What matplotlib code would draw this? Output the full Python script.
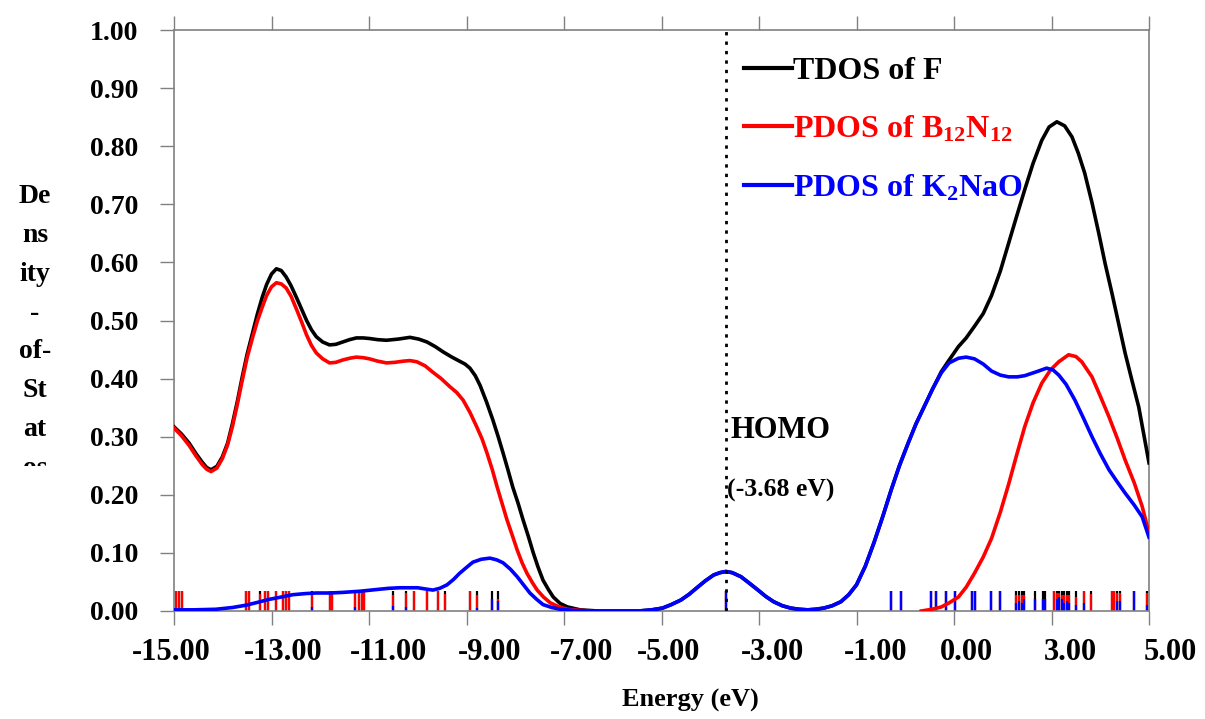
import numpy as np
import matplotlib
matplotlib.use("Agg")
import matplotlib.pyplot as plt
from matplotlib.lines import Line2D
from matplotlib.transforms import Bbox, blended_transform_factory

plt.rcParams['font.family'] = ['Liberation Serif', 'DejaVu Serif']
plt.rcParams['font.weight'] = 'bold'
plt.rcParams['mathtext.fontset'] = 'custom'
plt.rcParams['mathtext.rm'] = 'Liberation Serif:bold'
plt.rcParams['mathtext.it'] = 'Liberation Serif:bold'
plt.rcParams['mathtext.bf'] = 'Liberation Serif:bold'

# TDOS of the whole complex
tdos_x = [-15.0, -14.85, -14.69, -14.55, -14.42, -14.33, -14.24, -14.12, -14.01, -13.9, -13.8,
          -13.7, -13.6, -13.5, -13.39, -13.29, -13.19, -13.1, -13.0, -12.9, -12.8, -12.7,
          -12.6, -12.49, -12.38, -12.28, -12.18, -12.08, -11.95, -11.81, -11.68, -11.54,
          -11.4, -11.26, -11.12, -10.99, -10.82, -10.64, -10.4, -10.16, -9.98, -9.81,
          -9.64, -9.48, -9.3, -9.14, -9.03, -8.93, -8.82, -8.72, -8.59, -8.46, -8.35,
          -8.25, -8.15, -8.05, -7.94, -7.84, -7.73, -7.63, -7.53, -7.43, -7.32, -7.22,
          -7.08, -6.93, -6.67, -6.3, -5.47, -5.2, -4.98, -4.8, -4.6, -4.43, -4.26, -4.1,
          -3.93, -3.8, -3.68, -3.55, -3.37, -3.2, -3.02, -2.86, -2.7, -2.52, -2.35, -2.18,
          -2.0, -1.84, -1.67, -1.5, -1.32, -1.16, -1.0, -0.82, -0.64, -0.46, -0.29, -0.12,
          0.06, 0.22, 0.39, 0.56, 0.74, 0.9, 1.09, 1.25, 1.42, 1.6, 1.77, 1.95, 2.12, 2.28,
          2.45, 2.62, 2.8, 2.95, 3.11, 3.27, 3.42, 3.55, 3.68, 3.83, 3.97, 4.1, 4.24, 4.38,
          4.51, 4.65, 4.79, 5.0]
tdos_y = [0.317, 0.305, 0.289, 0.271, 0.256, 0.247, 0.243, 0.249, 0.265, 0.289, 0.323,
          0.361, 0.403, 0.442, 0.478, 0.511, 0.54, 0.562, 0.58, 0.589, 0.586, 0.575,
          0.56, 0.54, 0.519, 0.50, 0.484, 0.472, 0.463, 0.458, 0.459, 0.463,
          0.467, 0.47, 0.47, 0.469, 0.467, 0.466, 0.468, 0.471, 0.468, 0.463,
          0.455, 0.446, 0.437, 0.43, 0.425, 0.418, 0.405, 0.388, 0.36, 0.329, 0.300,
          0.272, 0.243, 0.213, 0.185, 0.157, 0.128, 0.10, 0.075, 0.053, 0.037, 0.024,
          0.013, 0.007, 0.002, 0.0, 0.0, 0.002, 0.005, 0.011, 0.019, 0.029, 0.041, 0.052,
          0.062, 0.066, 0.068, 0.066, 0.059, 0.048, 0.036, 0.025, 0.016, 0.009, 0.005, 0.003,
          0.002, 0.003, 0.005, 0.009, 0.016, 0.028, 0.045, 0.077, 0.118, 0.163, 0.208, 0.25,
          0.289, 0.322, 0.352, 0.382, 0.412, 0.432, 0.455, 0.47, 0.49, 0.512, 0.543, 0.585,
          0.633, 0.678, 0.725, 0.77, 0.81, 0.833, 0.842, 0.835, 0.816, 0.788, 0.754, 0.703,
          0.65, 0.598, 0.547, 0.494, 0.444, 0.397, 0.351, 0.255]

# PDOS of B12N12 (two visible pieces)
bn_left_x = [-15.0, -14.85, -14.69, -14.55, -14.42, -14.33, -14.24, -14.12, -14.01, -13.9,
             -13.8, -13.7, -13.6, -13.5, -13.39, -13.29, -13.19, -13.1, -13.0, -12.9, -12.8,
             -12.7, -12.6, -12.49, -12.38, -12.28, -12.18, -12.08, -11.95, -11.81, -11.68,
             -11.54, -11.4, -11.26, -11.12, -10.99, -10.82, -10.64, -10.47, -10.3, -10.16,
             -10.02, -9.85, -9.69, -9.52, -9.34, -9.2, -9.07, -8.93, -8.79, -8.68, -8.58,
             -8.47, -8.37, -8.27, -8.17, -8.06, -7.96, -7.86, -7.76, -7.65, -7.55, -7.42,
             -7.28, -7.1, -6.93, -6.5]
bn_left_y = [0.315, 0.302, 0.285, 0.267, 0.252, 0.244, 0.240, 0.246, 0.262, 0.286,
             0.318, 0.356, 0.397, 0.436, 0.47, 0.499, 0.523, 0.543, 0.558, 0.565, 0.563,
             0.556, 0.542, 0.52, 0.497, 0.475, 0.457, 0.444, 0.434, 0.427, 0.428,
             0.432, 0.435, 0.437, 0.436, 0.434, 0.43, 0.427, 0.428, 0.430, 0.431,
             0.429, 0.422, 0.411, 0.4, 0.386, 0.376, 0.363, 0.342, 0.317, 0.296, 0.272,
             0.243, 0.213, 0.185, 0.157, 0.13, 0.105, 0.083, 0.065, 0.049, 0.036, 0.024,
             0.014, 0.007, 0.003, 0.0]
bn_right_x = [0.33, 0.55, 0.74, 0.9, 1.09, 1.25, 1.42, 1.6, 1.77, 1.95, 2.12, 2.28, 2.45,
              2.62, 2.8, 2.98, 3.15, 3.35, 3.5, 3.62, 3.83, 4.0, 4.18, 4.35, 4.51, 4.7,
              4.86, 5.0]
bn_right_y = [0.0, 0.003, 0.007, 0.014, 0.024, 0.041, 0.065, 0.093, 0.125, 0.17, 0.218,
              0.267, 0.317, 0.358, 0.392, 0.415, 0.429, 0.441, 0.438, 0.429, 0.403, 0.37,
              0.334, 0.297, 0.26, 0.22, 0.18, 0.134]

# PDOS of K2NaO
kno_x = [-15.0, -14.6, -14.14, -13.8, -13.52, -13.28, -13.05, -12.8, -12.57, -12.3, -12.08,
         -11.8, -11.54, -11.19, -10.84, -10.6, -10.37, -10.0, -9.85, -9.69, -9.55, -9.4,
         -9.27, -9.14, -9.0, -8.87, -8.7, -8.52, -8.38, -8.25, -8.1, -7.96, -7.83, -7.7,
         -7.56, -7.43, -7.25, -7.08, -6.8, -6.5, -5.47, -5.2, -4.98, -4.8, -4.6, -4.43,
         -4.26, -4.1, -3.93, -3.8, -3.68, -3.55, -3.37, -3.2, -3.02, -2.86, -2.7, -2.52,
         -2.35, -2.18, -2.0, -1.84, -1.67, -1.5, -1.32, -1.16, -1.0, -0.82, -0.64, -0.46,
         -0.29, -0.12, 0.06, 0.22, 0.39, 0.56, 0.74, 0.9, 1.09, 1.25, 1.42, 1.6, 1.77,
         1.95, 2.12, 2.3, 2.45, 2.7, 2.9, 3.03, 3.15, 3.3, 3.48, 3.65, 3.83, 4.0, 4.18,
         4.35, 4.51, 4.7, 4.86, 5.0]
kno_y = [0.002, 0.002, 0.003, 0.006, 0.01, 0.015, 0.02, 0.024, 0.028, 0.030, 0.031,
         0.031, 0.032, 0.034, 0.037, 0.039, 0.040, 0.040, 0.038, 0.036, 0.039, 0.045,
         0.054, 0.065, 0.075, 0.084, 0.089, 0.091, 0.088, 0.083, 0.072, 0.059, 0.045, 0.031,
         0.02, 0.011, 0.006, 0.003, 0.001, 0.0, 0.0, 0.002, 0.005, 0.011, 0.019, 0.029,
         0.041, 0.052, 0.062, 0.066, 0.068, 0.066, 0.059, 0.048, 0.036, 0.025, 0.016, 0.009,
         0.005, 0.003, 0.002, 0.003, 0.005, 0.009, 0.016, 0.028, 0.045, 0.077, 0.118, 0.163,
         0.208, 0.25, 0.289, 0.322, 0.352, 0.382, 0.41, 0.427, 0.435, 0.437, 0.434, 0.425,
         0.413, 0.406, 0.403, 0.403, 0.405, 0.412, 0.418, 0.415, 0.406, 0.39, 0.363, 0.333,
         0.30, 0.271, 0.243, 0.222, 0.203, 0.182, 0.162, 0.127]

# energy levels: (energy, B12N12 fraction, K2NaO fraction)
levels = [(-14.95, 1, 0), (-14.90, 1, 0), (-14.83, 1, 0), (-13.52, 1, 0), (-13.47, 1, 0),
          (-13.23, 0.85, 0), (-13.13, 1, 0), (-13.07, 1, 0), (-12.91, 1, 0), (-12.76, 1, 0),
          (-12.70, 1, 0), (-12.65, 1, 0), (-12.17, 0.6, 0.2), (-11.79, 1, 0), (-11.76, 1, 0),
          (-11.28, 0.8, 0.2), (-11.21, 1, 0), (-11.15, 1, 0), (-11.10, 1, 0),
          (-10.51, 0.55, 0.25), (-10.25, 0.7, 0.2), (-10.08, 1, 0), (-9.82, 1, 0),
          (-9.58, 1, 0), (-9.44, 0.85, 0), (-8.92, 1, 0), (-8.78, 0.65, 0.15),
          (-8.47, 0, 0.6), (-8.36, 0.1, 0.5), (-3.68, 0, 1),
          (-0.29, 0, 1), (-0.08, 0, 1), (0.53, 0, 1), (0.64, 0, 1), (0.84, 0, 1), (1.03, 0, 1),
          (1.36, 0, 1), (1.43, 0, 1), (1.76, 0, 1), (1.94, 0, 1), (2.28, 0.4, 0.4),
          (2.33, 0.3, 0.5), (2.39, 0.4, 0.4), (2.44, 0.2, 0.6), (2.66, 0, 0.6), (2.82, 0, 0.6),
          (2.87, 0, 0.6), (3.06, 1, 0), (3.11, 0.3, 0.6), (3.15, 0.2, 0.7), (3.21, 0.2, 0.6),
          (3.26, 0.4, 0.4), (3.31, 0.3, 0.5), (3.36, 0.4, 0.4), (3.50, 0.4, 0.3),
          (3.66, 0.6, 0.4), (3.81, 0.85, 0), (4.24, 1, 0), (4.29, 1, 0), (4.34, 0.4, 0.5),
          (4.40, 0.4, 0.5), (4.69, 0, 1), (4.96, 0.6, 0.3)]

homo = -3.68
tick_pos = list(range(-15, 6, 2))
xlabel_text = ['-15.00', '-13.00', '-11.00', '-9.00', '-7.00', '-5.00', '-3.00',
               '-1.00', '0.00', '3.00', '5.00']
xlabel_at = [-15.06, -12.76, -10.59, -8.52, -6.63, -4.85, -2.73, -0.6, 1.25, 3.38, 5.43]

W, H = 1205, 719
fig = plt.figure(figsize=(W / 100, H / 100), dpi=100)
ax = fig.add_axes([174 / W, 108 / H, 975 / W, 581 / H])

# sticks for the energy levels
stick_h = 0.0345
lv = np.array(levels, dtype=float)
ax.vlines(lv[:, 0], 0, stick_h, colors='black', lw=1.6, zorder=2)
ax.vlines(lv[:, 0], 0, stick_h * np.minimum(lv[:, 1] + lv[:, 2], 1), colors='red', lw=1.6, zorder=2)
mask = lv[:, 2] > 0
ax.vlines(lv[mask, 0], 0, stick_h * lv[mask, 2], colors='blue', lw=1.6, zorder=2)

ax.plot(tdos_x, tdos_y, color='black', lw=2.6, zorder=3, solid_joinstyle='round')
ax.plot(bn_left_x, bn_left_y, color='red', lw=2.6, zorder=4, solid_joinstyle='round')
ax.plot(bn_right_x, bn_right_y, color='red', lw=2.6, zorder=4, solid_joinstyle='round')
ax.plot(kno_x, kno_y, color='blue', lw=2.6, zorder=5, solid_joinstyle='round')

ax.axvline(homo, color='black', lw=2, linestyle=(0, (1.2, 2.2)), zorder=6)
ax.text(homo + 0.1, 0.31, 'HOMO', fontsize=22, ha='left', va='center')
ax.text(homo + 0.03, 0.207, '(-3.68 eV)', fontsize=18.5, ha='left', va='center')

ax.set_xlim(-15, 5)
ax.set_ylim(0, 1)
ax.set_yticks(np.arange(0, 1.01, 0.1))
ax.set_yticklabels([f'{v:.2f}' for v in np.arange(0, 1.01, 0.1)])
ax.set_xticks(tick_pos)
ax.set_xticklabels([])
ax.tick_params(axis='y', direction='out', length=10, width=1, pad=16, labelsize=20, color='#808080')
ax.tick_params(axis='x', which='major', bottom=True, direction='out', length=10, width=1, color='#808080')
ax.tick_params(axis='x', top=True, length=10)
for sp in ax.spines.values():
    sp.set_color('#808080')
    sp.set_linewidth(1.2)

trans = blended_transform_factory(ax.transData, ax.transAxes)
for lab, xp in zip(xlabel_text, xlabel_at):
    ax.text(xp, -0.072, lab, transform=trans, ha='center', va='center', fontsize=22, clip_on=False)

fig.text(690 / W, 1 - 700 / H, 'Energy (eV)', ha='center', va='center', fontsize=19)

# y label squeezed into a narrow box, cut off at the bottom like the original
ylab = fig.text(35 / W, 1 - 184 / H, 'De\nns\nity\n-\nof-\nSt\nat\nos', ha='center', va='top',
                fontsize=20, linespacing=1.73)
ylab.set_clip_on(True)
ylab.set_clip_box(Bbox.from_extents(0, H - 466, 160, H))

handles = [Line2D([], [], color='black', lw=3),
           Line2D([], [], color='red', lw=3),
           Line2D([], [], color='blue', lw=3)]
labels = ['TDOS of F', r'PDOS of B$_{12}$N$_{12}$', r'PDOS of K$_{2}$NaO']
ax.legend(handles, labels, loc='upper left', bbox_to_anchor=(0.568, 0.982), frameon=False,
          fontsize=23, handlelength=1.5, handletextpad=0.05, labelspacing=0.88,
          borderpad=0, labelcolor=['black', 'red', 'blue'])

fig.savefig('out.png', dpi=100)
